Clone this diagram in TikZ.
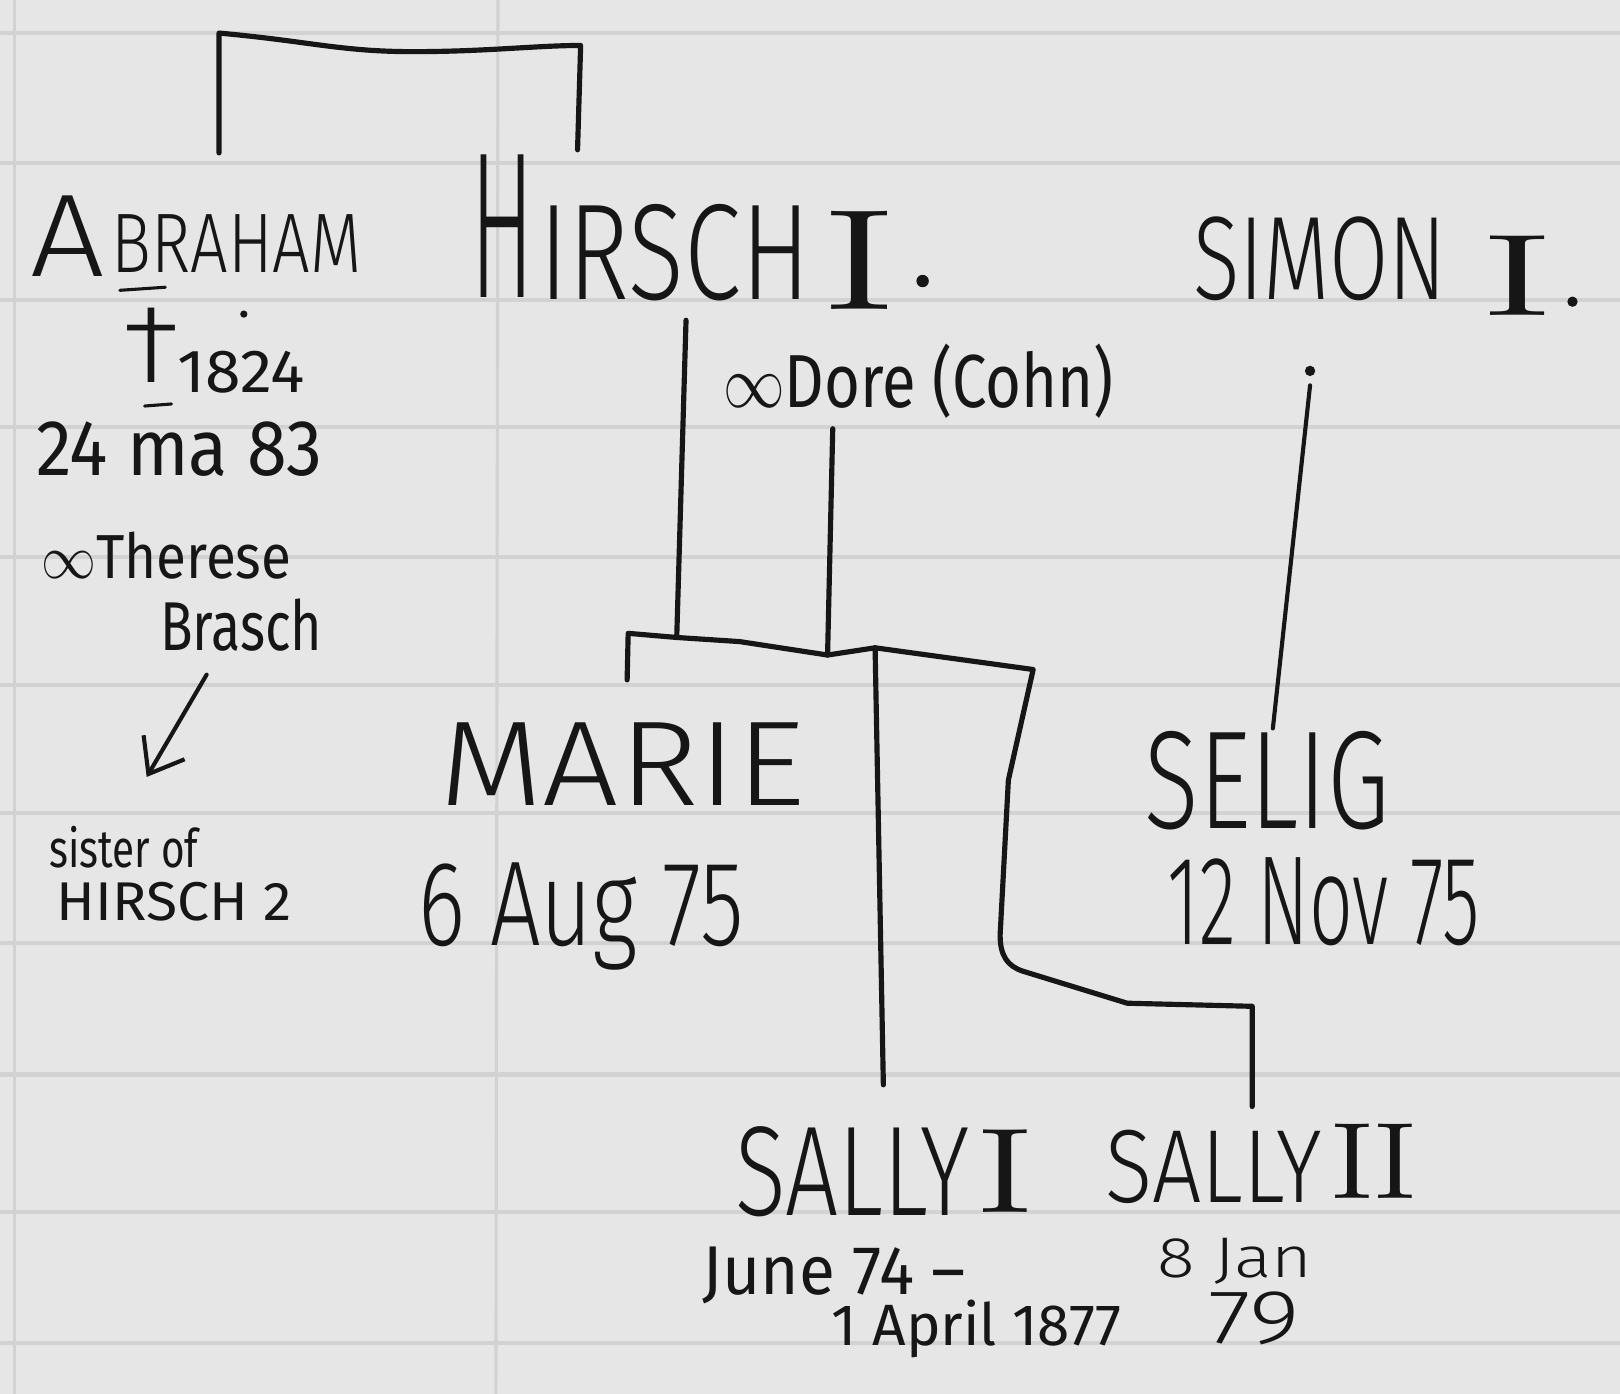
\documentclass[tikz,border=0pt]{standalone}
\usepackage{fontspec}
\usepackage{graphicx}
\usetikzlibrary{arrows.meta}
\IfFontExistsTF{Fira Sans Light}{\newfontfamily\handlt{Fira Sans Light}}{\newfontfamily\handlt{Fira Sans}}
\newfontfamily\handrg{Fira Sans}
\newcommand{\hserif}{\normalfont}
\definecolor{paper}{HTML}{E6E6E6}
\definecolor{rulec}{HTML}{D2D2D2}
\definecolor{ink}{HTML}{161616}
\newcommand{\hfit}[3]{\resizebox{#1pt}{#2pt}{#3}}
\newcommand{\hfitt}[3]{\resizebox*{#1pt}{#2pt}{#3}}
\begin{document}
\begin{tikzpicture}[x=1pt,y=-1pt,
  txt/.style={inner sep=0pt, outer sep=0pt, anchor=north west, text=ink},
  wire/.style={draw=ink, line width=5pt, line cap=round, line join=round}]
\useasboundingbox (0,0) rectangle (1568,1349);
\fill[paper] (0,0) rectangle (1568,1349);
\foreach \yy in {32,158,290,413,539,663,787,913,1040,1173,1300}
  \draw[rulec, line width=4pt] (0,\yy) -- (1568,\yy);
\draw[rulec, line width=3pt] (482,0) -- (480,1349);
\draw[rulec, line width=3pt] (14,0) -- (14,1349);

% --- names and texts ---
\node[txt] (abrA) at (30,190) {\hfit{72}{78}{\handlt A}};
\node[txt] (abr) at (108,208) {\hfit{242}{56}{\handlt BRAHAM}};
\draw[wire, line width=3pt] (116,281) -- (160,278);
\node[txt] (cross) at (118,298) {\hfitt{58}{72}{\handlt †}};
\node[txt] (yr) at (172,340) {\hfit{123}{40}{\handrg 1824}};
\fill[ink] (236,304) circle (3.5);
\draw[wire, line width=3pt] (140,393) -- (166,391);
\node[txt] (death) at (35,408) {\hfit{277}{52}{\handrg 24 ma 83}};
\node[txt] (mar) at (40,515) {\hfit{242}{45}{\handrg $\infty$Therese}};
\node[txt] (brasch) at (155,580) {\hfit{157}{50}{\handrg Brasch}};
\coordinate (arrS) at (200,653);
\coordinate (arrE) at (142,752);
\draw[wire, line width=4pt, -{Straight Barb[length=30pt,width=46pt]}] (arrS) -- (arrE);
\node[txt] (sis) at (48,800) {\hfit{144}{40}{\handrg sister of}};
\node[txt] (hir2) at (55,854) {\hfit{227}{37}{\handrg HIRSCH 2}};

\node[txt] (hirH) at (455,150) {\hfit{62}{138}{\handlt H}};
\node[txt] (hir) at (522,198) {\hfit{262}{92}{\handlt IRSCH}};
\node[txt] (hirI) at (800,205) {\hfit{64}{95}{\hserif I}};
\fill[ink] (893,272) circle (6);
\node[txt] (sim) at (1155,210) {\hfit{245}{80}{\handlt SIMON}};
\node[txt] (simI) at (1438,228) {\hfit{62}{77}{\hserif I}};
\fill[ink] (1522,292) circle (5);
\node[txt] (dore) at (700,333) {\hfitt{378}{72}{\handrg $\infty$Dore (Cohn)}};
\node[txt] (marie) at (425,700) {\hfit{355}{80}{\handlt MARIE}};
\node[txt] (marieD) at (405,835) {\hfit{315}{80}{\handlt 6 Aug 75}};
\node[txt] (selig) at (1108,708) {\hfit{237}{94}{\handlt SELIG}};
\node[txt] (seligD) at (1130,830) {\hfit{302}{84}{\handlt 12 Nov 75}};
\node[txt] (sally1) at (712,1090) {\hfit{226}{86}{\handlt SALLY}};
\node[txt] (sally1I) at (948,1094) {\hfit{50}{80}{\hserif I}};
\node[txt] (sally2) at (1070,1094) {\hfit{210}{70}{\handlt SALLY}};
\node[txt] (sally2I) at (1290,1088) {\hfit{80}{72}{\hserif II}};
\node[txt] (s1a) at (680,1207) {\hfit{255}{46}{\handrg June 74 –}};
\node[txt] (s1b) at (805,1258) {\hfit{280}{44}{\handrg 1 April 1877}};
\node[txt] (s2a) at (1120,1198) {\hfit{150}{38}{\handlt 8 Jan}};
\node[txt] (s2b) at (1170,1250) {\hfit{88}{50}{\handlt 79}};

% --- connectors ---
\coordinate (tA) at (212,148);
\coordinate (tAt) at (212,32);
\coordinate (tBt) at (562,44);
\coordinate (tB) at (559,145);
\draw[wire] (tA) -- (tAt) .. controls (300,40) and (330,50) .. (400,50)
  .. controls (470,50) and (520,44) .. (tBt) -- (tB);

\coordinate (hirS) at (664,310);
\coordinate (hirE) at (655,617);
\draw[wire] (hirS) -- (hirE);
\coordinate (doreS) at (806,415);
\coordinate (doreE) at (801,634);
\draw[wire] (doreS) -- (doreE);

\coordinate (marieT) at (607,658);
\coordinate (barL) at (608,613);
\coordinate (barJ) at (847,627);
\coordinate (barR) at (1000,648);
\coordinate (s2T) at (1212,1071);
\draw[wire] (marieT) -- (barL) -- (hirE) -- (716,621) -- (doreE) -- (barJ) -- (barR)
  -- (976,755) -- (968,905) .. controls (968,925) and (975,935) .. (990,940)
  -- (1091,971) -- (1212,974) -- (s2T);
\coordinate (s1T) at (855,1050);
\draw[wire] (barJ) -- (s1T);

\coordinate (simS) at (1268,373);
\coordinate (simE) at (1232,705);
\fill[ink] (1268,359) circle (5);
\draw[wire, line width=4pt] (simS) -- (simE);
\end{tikzpicture}
\end{document}
